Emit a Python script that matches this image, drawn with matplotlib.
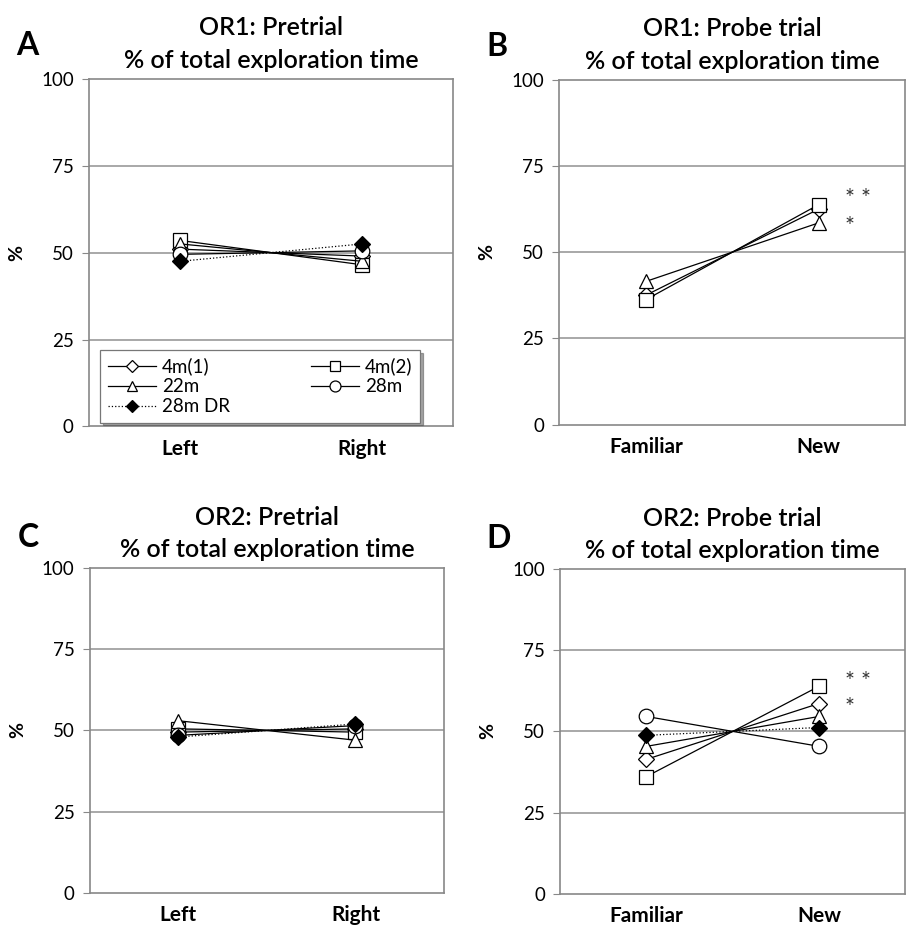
import matplotlib.pyplot as plt

plt.rcParams['font.family'] = ['Lato', 'DejaVu Sans']

groups = ['4m(1)', '4m(2)', '22m', '28m', '28m DR']
markers = ['D', 's', '^', 'o', 'D']
mfaces = ['white', 'white', 'white', 'white', 'black']
styles = ['-', '-', '-', '-', ':']

# panel A: OR1 pretrial (Left, Right)
or1_pre_left = [51.0, 53.5, 52.5, 49.5, 47.5]
or1_pre_right = [49.0, 46.5, 47.5, 50.5, 52.5]
# panel B: OR1 probe (Familiar, New), only three groups shown
or1_probe_groups = ['4m(1)', '4m(2)', '22m']
or1_probe_fam = [37.5, 36.2, 41.5]
or1_probe_new = [62.5, 63.8, 58.5]
# panel C: OR2 pretrial
or2_pre_left = [49.5, 50.5, 53.0, 48.5, 48.0]
or2_pre_right = [50.5, 49.5, 47.0, 51.5, 52.0]
# panel D: OR2 probe
or2_probe_fam = [41.4, 36.1, 45.4, 54.6, 48.8]
or2_probe_new = [58.6, 63.9, 54.6, 45.4, 51.2]

fig = plt.figure(figsize=(9.08, 9.27), dpi=100)

def panel(rect, title, letter, cats, left_vals, right_vals, names, stars=None, legend=False):
    ax = fig.add_axes(rect)
    handles = {}
    for name, a, b in zip(names, left_vals, right_vals):
        i = groups.index(name)
        ms = 8.5 if markers[i] == 'D' else 10.5
        h, = ax.plot([0, 1], [a, b], color='black', lw=0.9, ls=styles[i],
                     marker=markers[i], ms=ms, mfc=mfaces[i], mec='black',
                     mew=0.9, label=name)
        handles[name] = h
    ax.set_xlim(-0.5, 1.5)
    ax.set_ylim(0, 100)
    ax.set_yticks([0, 25, 50, 75, 100])
    ax.set_xticks([0, 1])
    ax.set_xticklabels(cats, fontsize=15, fontweight='bold')
    ax.tick_params(axis='x', length=0, pad=9)
    ax.tick_params(axis='y', length=5, color='#888888', labelsize=13.5, pad=6)
    for y in [25, 50, 75]:
        ax.axhline(y, color='#999999', lw=1.2, zorder=0)
    for s in ax.spines.values():
        s.set_color('#888888')
        s.set_linewidth(1.2)
    ax.set_ylabel('%', fontsize=14, fontweight='bold')
    ax.yaxis.set_label_coords(-64 / (rect[2] * 908), 0.5)
    ax.set_title(title, fontsize=18, fontweight='semibold', linespacing=1.5, pad=8)
    ax.text(-62 / (rect[2] * 908), 1.095, letter, transform=ax.transAxes, fontsize=23,
            fontweight='bold', ha='center', va='center')
    if stars:
        for yv, txt in stars:
            ax.text(1.15, yv, txt, fontsize=17, color='#333333', ha='left', va='center')
    if legend:
        order = ['4m(1)', '22m', '28m DR', '4m(2)', '28m']
        leg = ax.legend([handles[n] for n in order], order, ncol=2, loc='lower left',
                        bbox_to_anchor=(0.02, 0.0), fontsize=13.5, frameon=True,
                        fancybox=False, shadow=True, edgecolor='#777777',
                        handlelength=2.6, handletextpad=0.3, columnspacing=4.3,
                        labelspacing=0.15, borderaxespad=0.2, markerscale=0.75)
        leg.get_frame().set_linewidth(0.9)
    return ax

panel([0.098, 0.540, 0.401, 0.375], 'OR1: Pretrial\n% of total exploration time', 'A',
      ['Left', 'Right'], or1_pre_left, or1_pre_right, groups, legend=True)
panel([0.616, 0.542, 0.381, 0.372], 'OR1: Probe trial\n% of total exploration time', 'B',
      ['Familiar', 'New'], or1_probe_fam, or1_probe_new, or1_probe_groups,
      stars=[(65.5, '* *'), (57.5, '*')])
panel([0.099, 0.037, 0.390, 0.350], 'OR2: Pretrial\n% of total exploration time', 'C',
      ['Left', 'Right'], or2_pre_left, or2_pre_right, groups)
panel([0.617, 0.036, 0.380, 0.350], 'OR2: Probe trial\n% of total exploration time', 'D',
      ['Familiar', 'New'], or2_probe_fam, or2_probe_new, groups,
      stars=[(65.5, '* *'), (57.5, '*')])

fig.savefig('out.png', dpi=100, facecolor='white')
